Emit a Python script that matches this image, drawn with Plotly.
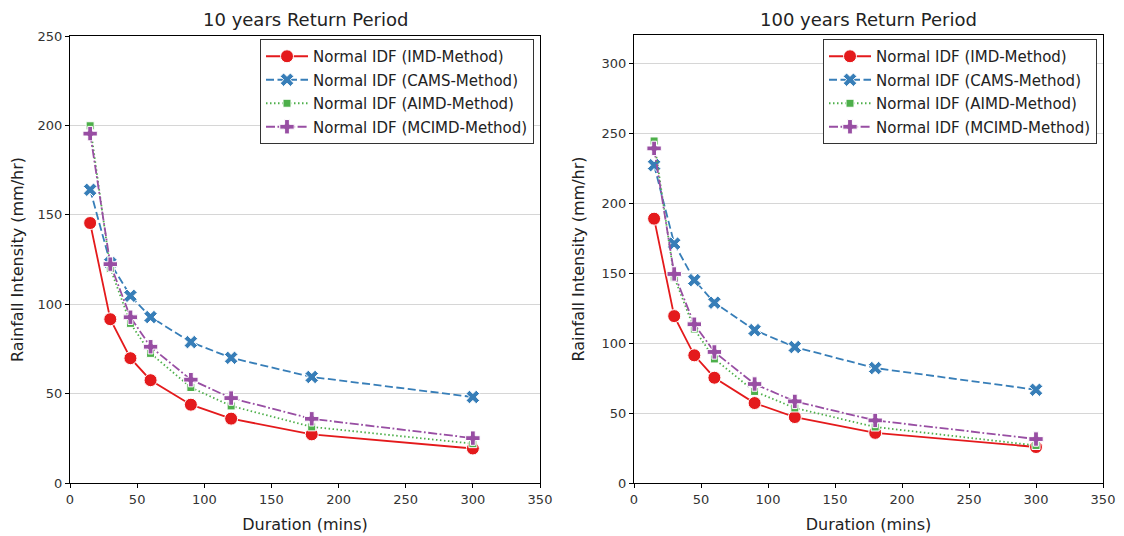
import plotly.graph_objects as go
from plotly.subplots import make_subplots

durations = [15, 30, 45, 60, 90, 120, 180, 300]

series_names = ["Normal IDF (IMD-Method)", "Normal IDF (CAMS-Method)",
                "Normal IDF (AIMD-Method)", "Normal IDF (MCIMD-Method)"]

# 10 years return period
imd_10 = [145.4, 91.6, 69.8, 57.5, 43.8, 36.0, 27.2, 19.3]
cams_10 = [164.0, 123.0, 104.7, 92.8, 78.8, 70.0, 59.3, 48.1]
aimd_10 = [199.8, 120.0, 89.3, 72.5, 53.4, 43.1, 31.4, 22.0]
mcimd_10 = [195.4, 122.4, 92.7, 76.2, 57.8, 47.5, 35.9, 25.1]

# 100 years return period
imd_100 = [188.8, 119.2, 91.2, 75.2, 57.1, 47.1, 35.8, 25.7]
cams_100 = [227.0, 171.0, 144.9, 128.8, 109.2, 97.1, 82.1, 66.6]
aimd_100 = [244.3, 147.0, 110.0, 88.6, 65.4, 53.6, 40.0, 26.8]
mcimd_100 = [239.0, 149.3, 113.4, 93.6, 70.7, 58.3, 44.7, 31.4]

titles = ["10 years Return Period", "100 years Return Period"]

colors = ["#e41a1c", "#377eb8", "#4daf4a", "#984ea3"]
symbols = ["circle", "x", "square", "cross"]
sizes = [13, 12, 8, 12]
dashes = ["solid", "8px,3.5px", "1.5px,2.5px", "9px,2.5px,1.8px,2.5px"]

# page body has an 8px margin; figure sized to fit the window exactly
OFF = 8
W, H = 1124 - OFF, 536 - OFF
FONT = "DejaVu Sans"

fig = make_subplots(rows=1, cols=2)

panels = [[imd_10, cams_10, aimd_10, mcimd_10], [imd_100, cams_100, aimd_100, mcimd_100]]
for p, data in enumerate(panels):
    for i, vals in enumerate(data):
        fig.add_trace(go.Scatter(
            x=durations, y=vals, name=series_names[i], mode="lines+markers",
            line=dict(color=colors[i], width=1.8, dash=dashes[i]),
            marker=dict(symbol=symbols[i], size=sizes[i], color=colors[i],
                        line=dict(color="white", width=1)),
            legend="legend" if p == 0 else "legend2",
            legendgroup=f"g{p}{i}",
        ), row=1, col=p + 1)

def px_x(v):
    return (v - OFF) / W

def px_y(v):
    return 1 - (v - OFF) / H

axis_common = dict(showline=True, linecolor="black", linewidth=1, mirror=True,
                   ticks="outside", ticklen=4, tickcolor="black",
                   tickfont=dict(family=FONT, size=13, color="#333"),
                   zeroline=False, automargin=False)

xt = dict(text="Duration (mins)", font=dict(family=FONT, size=16, color="#222"), standoff=13)
yt = dict(text="Rainfall Intensity (mm/hr)", font=dict(family=FONT, size=16, color="#222"), standoff=12)

leg_common = dict(xanchor="right", yanchor="top", bgcolor="white", bordercolor="#333",
                  borderwidth=1, font=dict(family=FONT, size=15, color="#222"),
                  itemwidth=42, tracegroupgap=1)

fig.update_layout(
    width=W, height=H, margin=dict(l=0, r=0, t=0, b=0),
    plot_bgcolor="white", paper_bgcolor="white",
    font=dict(family=FONT, color="#222"),
    xaxis=dict(domain=[px_x(70), px_x(540)], range=[0, 350], dtick=50, showgrid=False,
               title=xt, **axis_common),
    xaxis2=dict(domain=[px_x(634), px_x(1103)], range=[0, 350], dtick=50, showgrid=False,
                title=xt, **axis_common),
    yaxis=dict(domain=[px_y(483), px_y(36)], range=[0, 250], dtick=50, showgrid=True,
               gridcolor="#d6d6d6", gridwidth=1, title=yt, **axis_common),
    yaxis2=dict(domain=[px_y(483), px_y(35)], range=[0, 320], dtick=50, showgrid=True,
                gridcolor="#d6d6d6", gridwidth=1, title=yt, **axis_common),
    legend=dict(x=px_x(534), y=px_y(39), **leg_common),
    legend2=dict(x=px_x(1097), y=px_y(39), **leg_common),
    showlegend=True,
)

for p, title in enumerate(titles):
    x0, x1 = (70, 540) if p == 0 else (634, 1103)
    fig.add_annotation(text=title, x=px_x((x0 + x1) / 2), y=px_y(20), xref="paper", yref="paper",
                       showarrow=False, font=dict(family=FONT, size=18, color="#222"),
                       xanchor="center", yanchor="middle")

fig.write_html("out.html")
